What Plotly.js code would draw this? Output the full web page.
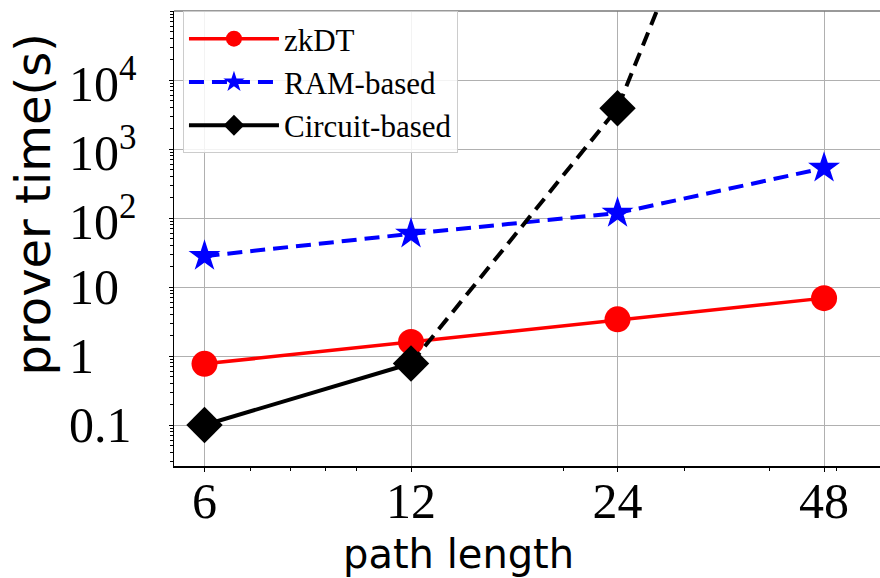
<!DOCTYPE html>
<html><head><meta charset="utf-8">
<script src="https://cdn.plot.ly/plotly-3.0.1.min.js"></script>
<style>html,body{margin:0;padding:0;background:#fff}#chart{width:880px;height:578px}</style>
</head><body><div id="chart"></div>
<script>
const pathLength = [6, 12, 24, 48];
const zkdtTime = [0.77, 1.6, 3.4, 6.9];
const ramTime = [28, 59, 118, 530];
const circuitLength = [6, 12];
const circuitTime = [0.1, 0.78];
const circuitExtLength = [12, 24, 48];
const circuitExtTime = [0.78, 3900, 1e11];
const xTickVals = [6, 12, 24, 48];
const xTickText = ['6', '12', '24', '48'];
const yTickVals = [0.1, 1, 10, 100, 1000, 10000];
const yTickText = ['0.1', '1', '10', '10<sup>2</sup>', '10<sup>3</sup>', '10<sup>4</sup>'];

const serif = 'Liberation Serif, Times New Roman, serif';
const sans = 'DejaVu Sans, sans-serif';

const traces = [
  {x: pathLength, y: zkdtTime, name: 'zkDT', mode: 'lines+markers',
   line: {color: '#ff0000', width: 3.5}, marker: {symbol: 'circle', size: 26, color: '#ff0000'}},
  {x: pathLength, y: ramTime, name: 'RAM-based', mode: 'lines+markers',
   line: {color: '#0000ff', width: 4, dash: '15px,8px'}, marker: {symbol: 'star', size: 24, color: '#0000ff'}},
  {x: circuitExtLength, y: circuitExtTime, name: 'Circuit-based ext', mode: 'lines', showlegend: false,
   line: {color: '#000000', width: 4, dash: '14px,8px'}},
  {x: circuitLength, y: circuitTime, name: 'Circuit-based', mode: 'lines+markers',
   line: {color: '#000000', width: 4}, marker: {symbol: 'diamond', size: 28, color: '#000000'}},
  {x: [circuitExtLength[1]], y: [circuitExtTime[1]], name: 'Circuit-based pt', mode: 'markers', showlegend: false,
   marker: {symbol: 'diamond', size: 28, color: '#000000'}}
];

const annotations = yTickVals.map((v, i) => ({
  x: -0.152, xref: 'paper', xanchor: 'left',
  y: Math.log10(v), yref: 'y', yanchor: 'middle',
  text: yTickText[i], showarrow: false,
  font: {family: serif, size: 50, color: '#000'}
}));
annotations.push({x: -0.1997, xref: 'paper', y: 0.575, yref: 'paper', xanchor: 'center', yanchor: 'middle',
  text: 'prover time(s)', textangle: -90, showarrow: false, font: {family: sans, size: 48, color: '#000'}});
annotations.push({x: 0.4023, xref: 'paper', y: -0.194, yref: 'paper', xanchor: 'center', yanchor: 'middle',
  text: 'path length', showarrow: false, font: {family: sans, size: 40, color: '#000'}});

const layout = {
  width: 880, height: 578,
  margin: {l: 174, r: 0, t: 11, b: 112},
  paper_bgcolor: '#ffffff', plot_bgcolor: '#ffffff',
  showlegend: true,
  legend: {x: 0.0127, y: 1, xanchor: 'left', yanchor: 'top',
    bgcolor: 'rgba(255,255,255,0.85)', bordercolor: '#cccccc', borderwidth: 1,
    font: {family: serif, size: 31, color: '#000'}, itemwidth: 90, entrywidth: 270},
  xaxis: {type: 'log', range: [0.7337, 1.7628], tickvals: xTickVals, ticktext: xTickText,
    showgrid: true, gridcolor: '#b0b0b0', gridwidth: 1, zeroline: false,
    showline: true, linecolor: '#000', linewidth: 1.5,
    ticks: 'outside', ticklen: 4, tickcolor: '#000', ticklabelstandoff: -14,
    minor: {ticks: 'outside', ticklen: 3, tickcolor: '#000', dtick: 'D1', showgrid: false},
    tickfont: {family: serif, size: 50, color: '#000'}, automargin: false},
  yaxis: {type: 'log', range: [-1.594, 5], tickvals: yTickVals, showticklabels: false,
    showgrid: true, gridcolor: '#b0b0b0', gridwidth: 1, zeroline: false,
    showline: true, linecolor: '#000', linewidth: 1.5,
    ticks: 'outside', ticklen: 4, tickcolor: '#000',
    minor: {ticks: 'outside', ticklen: 2.5, tickcolor: '#000', dtick: 'D1', showgrid: false},
    automargin: false},
  shapes: [{type: 'line', xref: 'paper', yref: 'paper', x0: 0, x1: 1, y0: 1, y1: 1,
    line: {color: '#777777', width: 1.5}}],
  annotations: annotations
};

Plotly.newPlot('chart', traces, layout, {displayModeBar: false, staticPlot: true});
</script>
</body></html>
